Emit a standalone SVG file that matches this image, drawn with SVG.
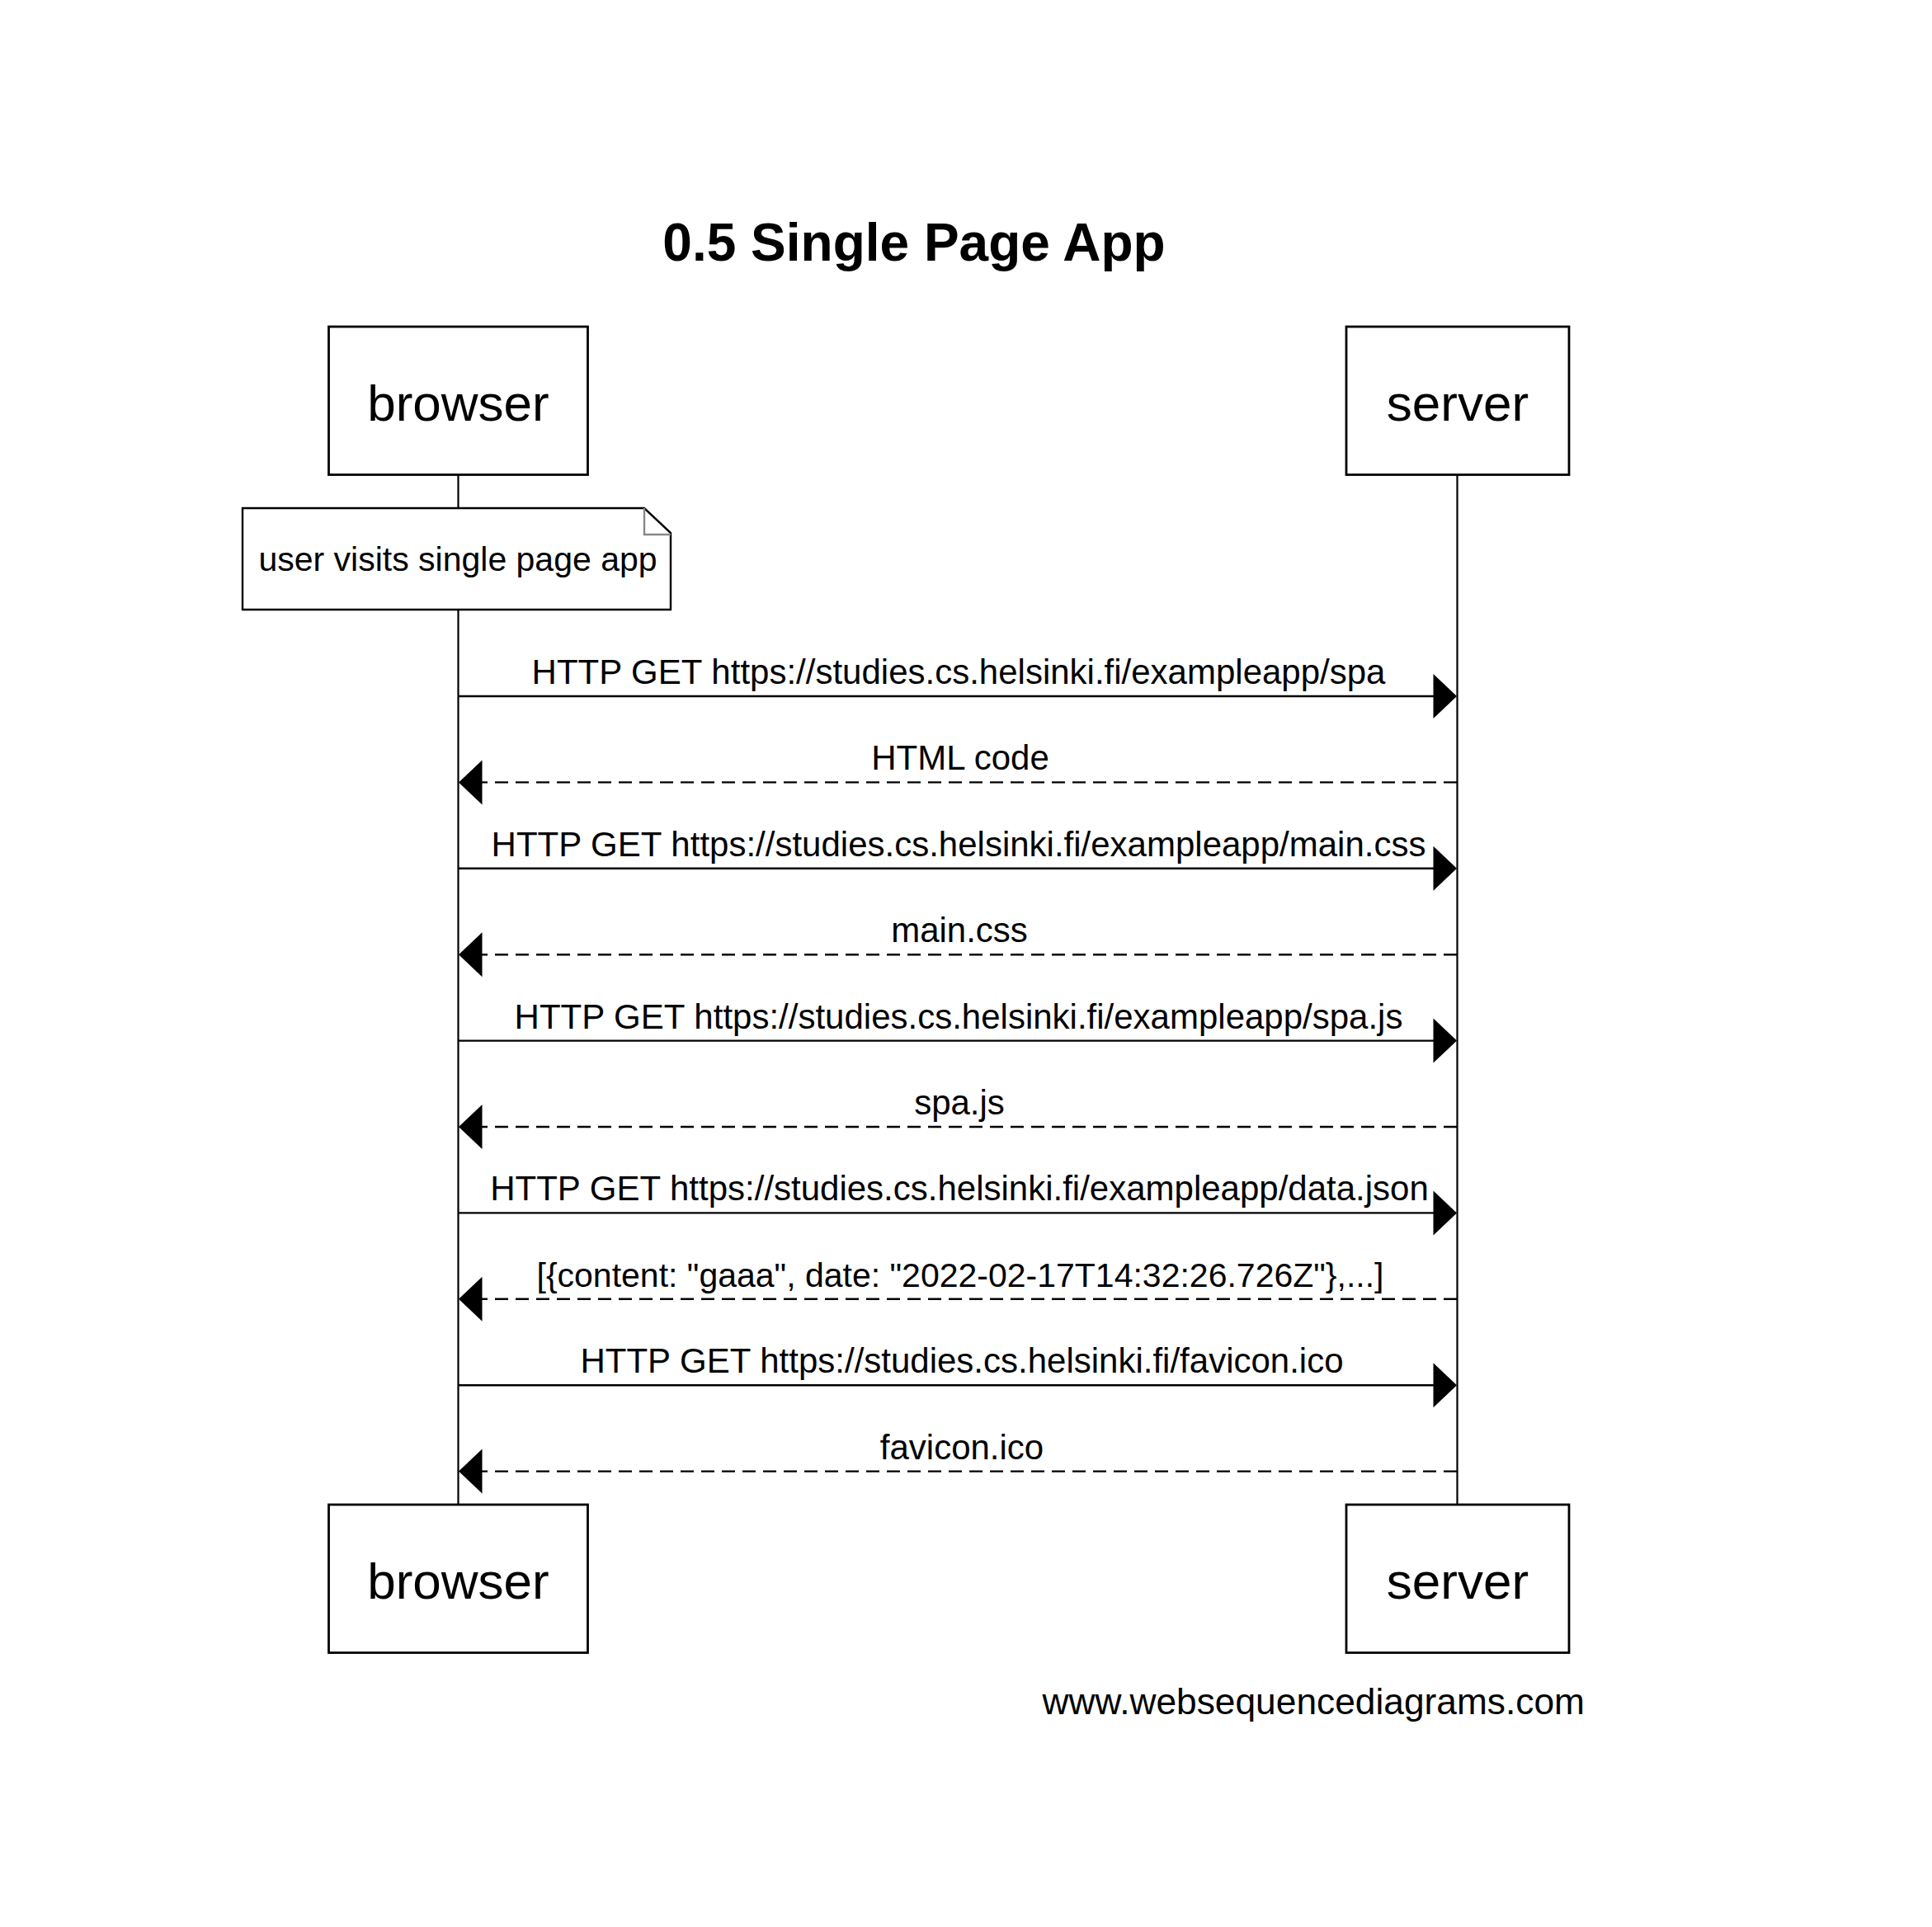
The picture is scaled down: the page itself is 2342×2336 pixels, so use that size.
<svg xmlns="http://www.w3.org/2000/svg" width="2342" height="2336" viewBox="0 0 2342 2336">
<style>
text { font-family: "Liberation Sans", Arial, sans-serif; fill: #000; }
.title { font-size: 64px; font-weight: bold; text-anchor: middle; }
.part { font-size: 62px; text-anchor: middle; }
.box { fill: #fff; stroke: #000; stroke-width: 2.8; }
.life { stroke: #000; stroke-width: 2.2; fill: none; }
.msg { font-size: 42px; text-anchor: middle; }
.note-text { font-size: 41px; text-anchor: middle; }
.note { fill: #fff; stroke: #000; stroke-width: 2.4; }
.fold { fill: none; stroke: #888; stroke-width: 2.4; }
.solid { stroke: #000; stroke-width: 2.4; fill: none; }
.dashed { stroke: #000; stroke-width: 2.4; fill: none; stroke-dasharray: 16 9; }
.head { fill: #000; stroke: none; }
.wm { font-size: 44.3px; text-anchor: end; }
</style>
<rect x="0" y="0" width="2342" height="2336" fill="#fff"/>
<text class="title" x="1108" y="316">0.5 Single Page App</text>

<g id="lifelines">
  <line class="life" x1="555.5" y1="575" x2="555.5" y2="1824"/>
  <line class="life" x1="1766.5" y1="575" x2="1766.5" y2="1824"/>
</g>

<g id="browser-top">
  <rect class="box" x="398.5" y="396" width="314" height="179.5"/>
  <text class="part" x="555.5" y="510">browser</text>
</g>
<g id="server-top">
  <rect class="box" x="1632" y="396" width="270" height="179.5"/>
  <text class="part" x="1767" y="510">server</text>
</g>

<g id="note">
  <path class="note" d="M294,616 H781 L813,646 V739 H294 Z"/>
  <path class="fold" d="M781,616 V648 H813"/>
  <text class="note-text" x="555" y="692">user visits single page app</text>
</g>

<g id="connectors">
  <g id="m1">
    <line class="solid" x1="555.5" y1="844" x2="1740" y2="844"/>
    <polygon class="head" points="1766,844 1737.5,817 1737.5,871"/>
    <text class="msg" x="1162" y="829">HTTP GET https://studies.cs.helsinki.fi/exampleapp/spa</text>
  </g>
  <g id="m2">
    <line class="dashed" x1="1766" y1="948.4" x2="584" y2="948.4"/>
    <polygon class="head" points="556,948.4 584.5,921.4 584.5,975.4"/>
    <text class="msg" x="1164" y="933.4">HTML code</text>
  </g>
  <g id="m3">
    <line class="solid" x1="555.5" y1="1052.8" x2="1740" y2="1052.8"/>
    <polygon class="head" points="1766,1052.8 1737.5,1025.8 1737.5,1079.8"/>
    <text class="msg" x="1162" y="1037.8">HTTP GET https://studies.cs.helsinki.fi/exampleapp/main.css</text>
  </g>
  <g id="m4">
    <line class="dashed" x1="1766" y1="1157.2" x2="584" y2="1157.2"/>
    <polygon class="head" points="556,1157.2 584.5,1130.2 584.5,1184.2"/>
    <text class="msg" x="1163" y="1142.2">main.css</text>
  </g>
  <g id="m5">
    <line class="solid" x1="555.5" y1="1261.6" x2="1740" y2="1261.6"/>
    <polygon class="head" points="1766,1261.6 1737.5,1234.6 1737.5,1288.6"/>
    <text class="msg" x="1162" y="1246.6">HTTP GET https://studies.cs.helsinki.fi/exampleapp/spa.js</text>
  </g>
  <g id="m6">
    <line class="dashed" x1="1766" y1="1366" x2="584" y2="1366"/>
    <polygon class="head" points="556,1366 584.5,1339 584.5,1393"/>
    <text class="msg" x="1163" y="1351">spa.js</text>
  </g>
  <g id="m7">
    <line class="solid" x1="555.5" y1="1470.4" x2="1740" y2="1470.4"/>
    <polygon class="head" points="1766,1470.4 1737.5,1443.4 1737.5,1497.4"/>
    <text class="msg" x="1163" y="1455.4">HTTP GET https://studies.cs.helsinki.fi/exampleapp/data.json</text>
  </g>
  <g id="m8">
    <line class="dashed" x1="1766" y1="1574.8" x2="584" y2="1574.8"/>
    <polygon class="head" points="556,1574.8 584.5,1547.8 584.5,1601.8"/>
    <text class="msg" x="1164" y="1559.8" style="font-size:41px">[{content: "gaaa", date: "2022-02-17T14:32:26.726Z"},...]</text>
  </g>
  <g id="m9">
    <line class="solid" x1="555.5" y1="1679.2" x2="1740" y2="1679.2"/>
    <polygon class="head" points="1766,1679.2 1737.5,1652.2 1737.5,1706.2"/>
    <text class="msg" x="1166" y="1664.2">HTTP GET https://studies.cs.helsinki.fi/favicon.ico</text>
  </g>
  <g id="m10">
    <line class="dashed" x1="1766" y1="1783.6" x2="584" y2="1783.6"/>
    <polygon class="head" points="556,1783.6 584.5,1756.6 584.5,1810.6"/>
    <text class="msg" x="1166" y="1768.6">favicon.ico</text>
  </g>
</g>

<g id="browser-bottom">
  <rect class="box" x="398.5" y="1824" width="314" height="179.5"/>
  <text class="part" x="555.5" y="1938">browser</text>
</g>
<g id="server-bottom">
  <rect class="box" x="1632" y="1824" width="270" height="179.5"/>
  <text class="part" x="1767" y="1938">server</text>
</g>

<text class="wm" x="1921" y="2078">www.websequencediagrams.com</text>
</svg>
